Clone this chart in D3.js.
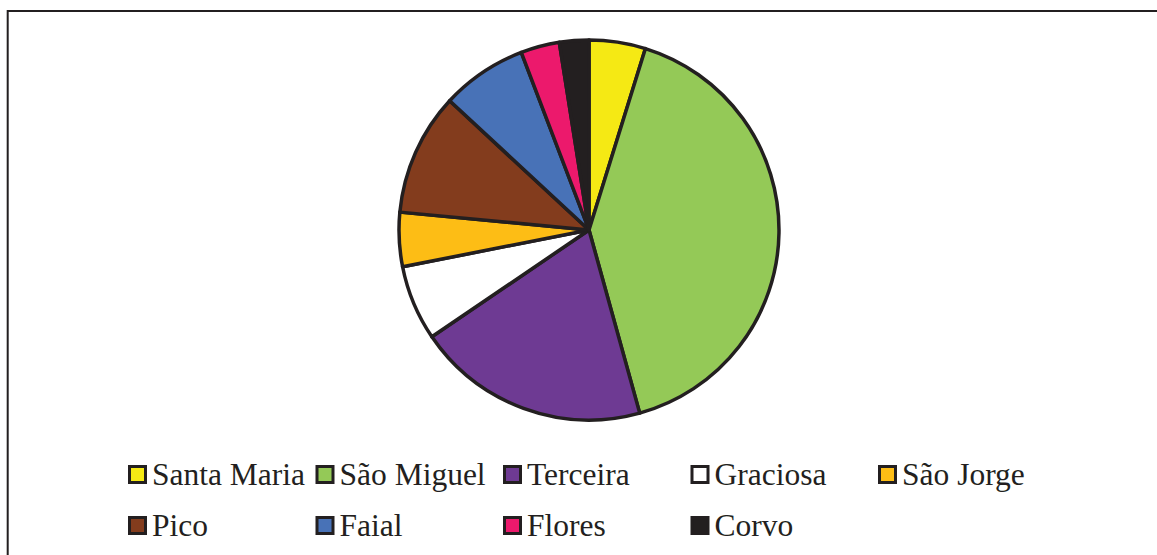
<!DOCTYPE html>
<html>
<head>
<meta charset="utf-8">
<script src="https://cdn.jsdelivr.net/npm/d3@7/dist/d3.min.js"></script>
<style>
  html, body { margin: 0; padding: 0; background: #fff; }
  svg { display: block; }
  text { font-family: "Liberation Serif", "Times New Roman", serif; fill: #231f20; }
</style>
</head>
<body>
<svg id="chart" width="1157" height="555"></svg>
<script>
const categories = ["Santa Maria", "São Miguel", "Terceira", "Graciosa", "São Jorge", "Pico", "Faial", "Flores", "Corvo"];
const values = [4.8, 40.9, 19.8, 6.4, 4.6, 10.4, 7.3, 3.3, 2.5];
const colors = ["#f5e914", "#94c957", "#6e3a93", "#ffffff", "#fdbd15", "#833c1d", "#4872b7", "#ec196c", "#231f20"];

const svg = d3.select("#chart");
const W = 1157, H = 555;
const ink = "#231f20";

// frame (top and left edges visible)
svg.append("path")
  .attr("d", `M7.7,${H + 5} L7.7,11 L${W + 5},11`)
  .attr("fill", "none")
  .attr("stroke", ink)
  .attr("stroke-width", 2);

const data = categories.map((c, i) => ({ name: c, value: values[i], color: colors[i] }));

const cx = 589, cy = 230, r = 190;
const pie = d3.pie().sort(null).value(d => d.value);
const arc = d3.arc().innerRadius(0).outerRadius(r);

const g = svg.append("g").attr("transform", `translate(${cx},${cy})`);
g.selectAll("path.slice")
  .data(pie(data))
  .join("path")
  .attr("class", "slice")
  .attr("d", arc)
  .attr("fill", d => d.data.color)
  .attr("stroke", ink)
  .attr("stroke-width", 3.5)
  .attr("stroke-linejoin", "round");

// legend
const colX = d3.scaleLinear().domain([0, 1]).range([128, 315.5]);
const rowY = d3.scaleLinear().domain([0, 1]).range([474.5, 525.5]);
const perRow = 5;
const lg = svg.append("g");
const items = lg.selectAll("g.item")
  .data(data)
  .join("g")
  .attr("class", "item")
  .attr("transform", (d, i) => `translate(${colX(i % perRow)},${rowY(Math.floor(i / perRow))})`);

items.append("rect")
  .attr("x", 1.5)
  .attr("y", -8)
  .attr("width", 16)
  .attr("height", 16)
  .attr("fill", d => d.color)
  .attr("stroke", ink)
  .attr("stroke-width", 3);

items.append("text")
  .attr("x", 24)
  .attr("y", 10.2)
  .attr("font-size", 31.5)
  .text(d => d.name);
</script>
</body>
</html>
